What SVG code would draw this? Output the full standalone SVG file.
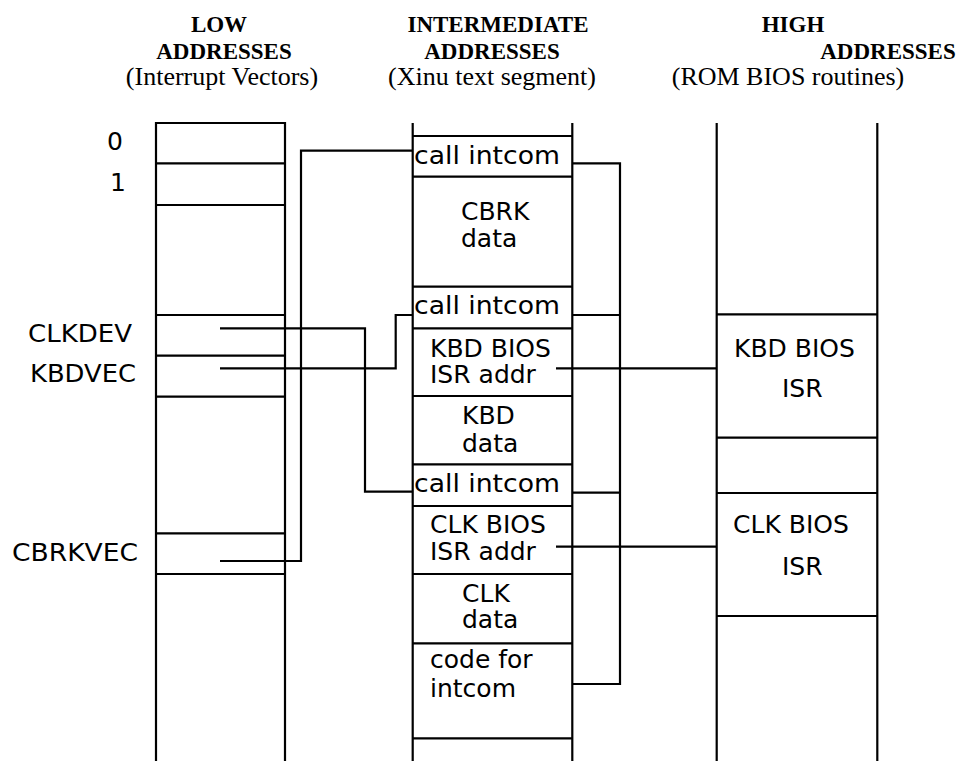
<svg xmlns="http://www.w3.org/2000/svg" width="965" height="761" viewBox="0 0 965 761">
<style>
.ln{stroke:#000;stroke-width:2.2;fill:none;stroke-linecap:butt}
.hb{font-family:"Liberation Serif","Times New Roman",serif;font-weight:bold;font-size:23px;text-anchor:middle;fill:#000}
.hr{font-family:"Liberation Serif","Times New Roman",serif;font-size:26px;text-anchor:middle;fill:#000}
.t{font-family:"DejaVu Sans","Liberation Sans",sans-serif;font-size:25px;fill:#000}
</style>
<rect width="965" height="761" fill="#fff"/>
<g id="headers">
<text class="hb" x="219" y="32">LOW</text>
<text class="hb" x="224" y="59">ADDRESSES</text>
<text class="hr" x="222" y="85">(Interrupt Vectors)</text>
<text class="hb" x="498" y="32">INTERMEDIATE</text>
<text class="hb" x="492" y="59">ADDRESSES</text>
<text class="hr" x="492" y="85">(Xinu text segment)</text>
<text class="hb" x="793" y="32">HIGH</text>
<text class="hb" x="888" y="59">ADDRESSES</text>
<text class="hr" x="788" y="85">(ROM BIOS routines)</text>
</g>
<g id="low-column">
<path class="ln" d="M156,761V123H285V761"/>
<path class="ln" d="M156,163.3H285M156,205H285M156,315H285M156,355.7H285M156,396.7H285M156,533.3H285M156,574H285"/>
<g id="vec0"><text class="t" x="107" y="150">0</text></g>
<g id="vec1"><text class="t" x="110" y="191">1</text></g>
<g id="clkdev"><text class="t" x="28" y="342" textLength="104" lengthAdjust="spacingAndGlyphs">CLKDEV</text></g>
<g id="kbdvec"><text class="t" x="30" y="382" textLength="106" lengthAdjust="spacingAndGlyphs">KBDVEC</text></g>
<g id="cbrkvec"><text class="t" x="12" y="561" textLength="126" lengthAdjust="spacingAndGlyphs">CBRKVEC</text></g>
</g>
<g id="mid-column">
<path class="ln" d="M412.7,123V761M572.3,123V761"/>
<path class="ln" d="M412.7,136H572.3M412.7,176.7H572.3M412.7,286.7H572.3M412.7,328.3H572.3M412.7,396H572.3M412.7,464.3H572.3M412.7,506H572.3M412.7,574H572.3M412.7,643.3H572.3M412.7,738.3H572.3"/>
<g id="call1"><text class="t" x="414" y="164" textLength="146" lengthAdjust="spacingAndGlyphs">call intcom</text></g>
<g id="cbrkdata"><text class="t" x="461" y="220">CBRK</text><text class="t" x="461" y="247">data</text></g>
<g id="call2"><text class="t" x="414" y="314" textLength="146" lengthAdjust="spacingAndGlyphs">call intcom</text></g>
<g id="kbdaddr"><text class="t" x="430" y="357">KBD BIOS</text><text class="t" x="430" y="383">ISR addr</text></g>
<g id="kbddata"><text class="t" x="462" y="424">KBD</text><text class="t" x="462" y="452">data</text></g>
<g id="call3"><text class="t" x="414" y="492" textLength="146" lengthAdjust="spacingAndGlyphs">call intcom</text></g>
<g id="clkaddr"><text class="t" x="430" y="533">CLK BIOS</text><text class="t" x="430" y="560">ISR addr</text></g>
<g id="clkdata"><text class="t" x="462" y="602">CLK</text><text class="t" x="462" y="628">data</text></g>
<g id="intcom"><text class="t" x="430" y="668">code for</text><text class="t" x="430" y="697">intcom</text></g>
</g>
<g id="high-column">
<path class="ln" d="M716.7,123V761M877.3,123V761"/>
<path class="ln" d="M716.7,314.3H877.3M716.7,437.7H877.3M716.7,493H877.3M716.7,616H877.3"/>
<g id="kbdisr"><text class="t" x="734" y="357">KBD BIOS</text><text class="t" x="782" y="397">ISR</text></g>
<g id="clkisr"><text class="t" x="733" y="533">CLK BIOS</text><text class="t" x="782" y="575">ISR</text></g>
</g>
<g id="connectors">
<path class="ln" d="M220,561H301V150.7H412.7"/>
<path class="ln" d="M220,328.3H365V491.7H412.7"/>
<path class="ln" d="M220,368.3H395.7V315H412.7"/>
<path class="ln" d="M572.3,163.3H620V684H572.3M572.3,315H620M572.3,492.7H620"/>
<path class="ln" d="M556,368.3H716.7"/>
<path class="ln" d="M556,546.7H716.7"/>
</g>
</svg>
